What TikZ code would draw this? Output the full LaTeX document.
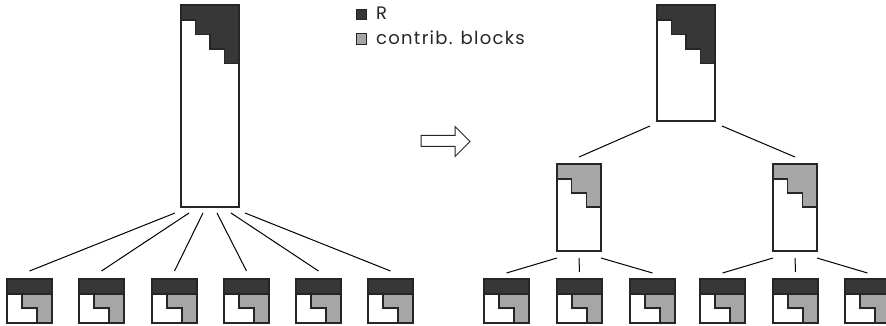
\documentclass[tikz,border=0pt]{standalone}
\usepackage{fontspec}
\setmainfont{Poppins}
\usetikzlibrary{calc}
\definecolor{rdark}{RGB}{55,55,55}
\definecolor{cgray}{RGB}{166,166,166}
\begin{document}
\begin{tikzpicture}[x=1pt,y=-1pt,
  outline/.style={draw=black!85,line width=1.1pt},
  conn/.style={draw=black,line width=1pt},
  box/.style={rectangle,inner sep=0pt,outer sep=0pt,anchor=north west,line width=1.1pt,draw=black!85},
  keybox/.style={rectangle,draw=black!85,line width=0.9pt,minimum width=10pt,minimum height=10.5pt,inner sep=0pt,anchor=north west},
  legtext/.style={font=\fontsize{18}{20}\selectfont\addfontfeatures{LetterSpace=7},anchor=base west,inner sep=0pt,text=black!85}]
\useasboundingbox (0,0) rectangle (886,326);

% --- big R-block (4 steps)
\newcommand{\bigRblock}[4]{%
  \node[box,minimum width=58pt,minimum height=#4 pt] (#1) at (#2,#3) {};
  \fill[rdark] (#2,#3) -- ++(58,0) -- ++(0,58) -- ++(-14.5,0) -- ++(0,-14.5) -- ++(-14.5,0) -- ++(0,-14.5) -- ++(-14.5,0) -- ++(0,-14.5) -- ++(-14.5,0) -- cycle;
  \draw[outline] (#2,#3) ++(0,15) -- ++(14.5,0) -- ++(0,14.5) -- ++(14.5,0) -- ++(0,14.5) -- ++(14.5,0) -- ++(0,14.5) -- ++(14.5,0);
  \draw[outline] (#2,#3) rectangle ++(58,#4);
}
% --- middle contrib block (3 steps)
\newcommand{\midblock}[3]{%
  \node[box,minimum width=44pt,minimum height=87pt] (#1) at (#2,#3) {};
  \fill[cgray] (#2,#3) -- ++(44,0) -- ++(0,43) -- ++(-14.67,0) -- ++(0,-14) -- ++(-14.67,0) -- ++(0,-14) -- ++(-14.67,0) -- cycle;
  \draw[outline] (#2,#3) ++(0,15) -- ++(14.67,0) -- ++(0,14) -- ++(14.67,0) -- ++(0,14) -- ++(14.67,0);
  \draw[outline] (#2,#3) rectangle ++(44,87);
}
% --- leaf block
\newcommand{\leafblock}[3]{%
  \node[box,minimum width=45pt,minimum height=44pt] (#1) at (#2,#3) {};
  \fill[rdark] (#2,#3) rectangle ++(45,15);
  \fill[cgray] (#2,#3) ++(15,15) -- ++(30,0) -- ++(0,29) -- ++(-15,0) -- ++(0,-14) -- ++(-15,0) -- cycle;
  \draw[outline] (#2,#3) ++(0,15) -- ++(45,0);
  \draw[outline] (#2,#3) ++(15,15) -- ++(0,14) -- ++(15,0) -- ++(0,15);
  \draw[outline] (#2,#3) rectangle ++(45,44);
}

% left tree
\bigRblock{T}{181}{5}{202}
\leafblock{La}{7}{279}
\leafblock{Lb}{79}{279}
\leafblock{Lc}{152}{279}
\leafblock{Ld}{224}{279}
\leafblock{Le}{296}{279}
\leafblock{Lf}{368}{279}
\foreach \n/\dx in {La/-35,Lb/-21,Lc/-7,Ld/7,Le/21,Lf/35}
  \draw[conn] ($(T.south)+(\dx,6)$) -- ($(\n.north)+(0,-8)$);

% right tree
\bigRblock{R}{657}{5}{116}
\midblock{Ma}{557}{164}
\midblock{Mb}{773}{164}
\draw[conn] ($(R.south)+(-36,5)$) -- ($(Ma.north)+(0,-7)$);
\draw[conn] ($(R.south)+(36,5)$) -- ($(Mb.north)+(0,-7)$);
\leafblock{Ra}{484}{279}
\leafblock{Rb}{557}{279}
\leafblock{Rc}{630}{279}
\leafblock{Rd}{700}{279}
\leafblock{Re}{773}{279}
\leafblock{Rf}{845}{279}
\draw[conn] ($(Ma.south west)+(0,7)$) -- ($(Ra.north)+(0,-6)$);
\draw[conn] ($(Ma.south)+(0,7)$) -- ($(Rb.north)+(0,-7)$);
\draw[conn] ($(Ma.south east)+(0,7)$) -- ($(Rc.north)+(0,-6)$);
\draw[conn] ($(Mb.south west)+(0,7)$) -- ($(Rd.north)+(0,-6)$);
\draw[conn] ($(Mb.south)+(0,7)$) -- ($(Re.north)+(0,-7)$);
\draw[conn] ($(Mb.south east)+(0,7)$) -- ($(Rf.north)+(0,-6)$);

% transformation arrow
\draw[line width=1pt,draw=black!85] (421,135.5) -- (455,135.5) -- (455,126.5) -- (470,141.5) -- (455,156.5) -- (455,146.5) -- (421,146.5) -- cycle;

% legend
\node[keybox,fill=rdark] (kR) at (355.5,9) {};
\node[keybox,fill=cgray] (kC) at (355.5,33.5) {};
\node[legtext] (tR) at (376,20) {R};
\node[legtext] (tC) at (376,44.5) {contrib. blocks};
\end{tikzpicture}
\end{document}
